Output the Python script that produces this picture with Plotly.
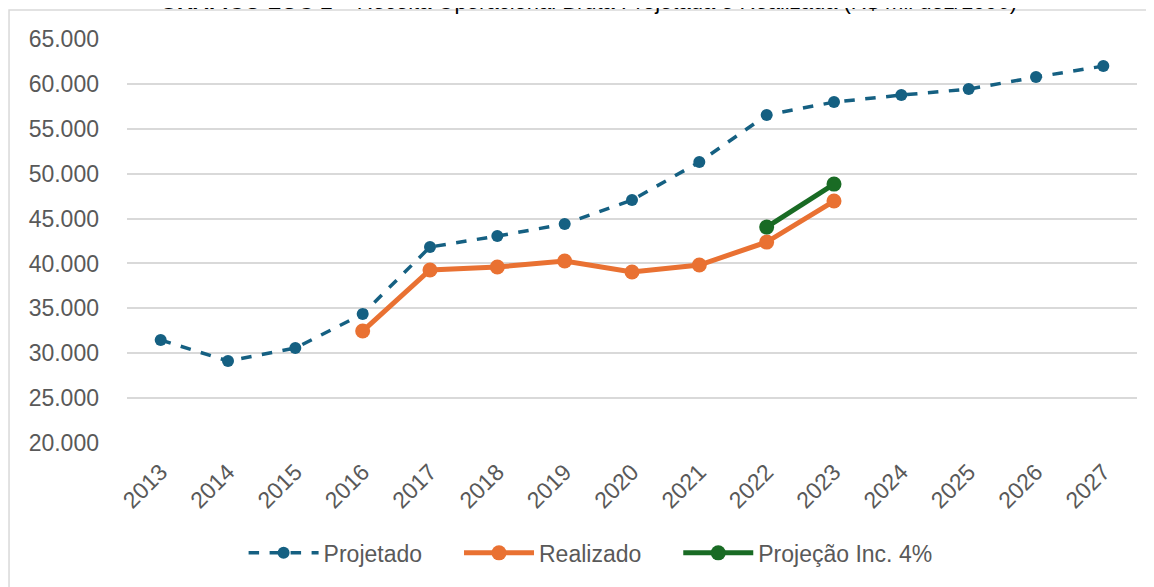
import plotly.graph_objects as go

# dados do grafico (R$ mil dez/1996)
anos = ['2013', '2014', '2015', '2016', '2017', '2018', '2019', '2020',
        '2021', '2022', '2023', '2024', '2025', '2026', '2027']
projetado = [31470, 29130, 30580, 34370, 41830, 43050, 44390, 47060,
             51290, 56530, 57970, 58750, 59420, 60760, 61980]
anos_realizado = ['2016', '2017', '2018', '2019', '2020', '2021', '2022', '2023']
realizado = [32470, 39270, 39600, 40270, 39040, 39820, 42380, 46950]
anos_inc4 = ['2022', '2023']
projecao_inc4 = [44050, 48840]
y_ticks = [20000, 25000, 30000, 35000, 40000, 45000, 50000, 55000, 60000, 65000]
y_labels = ['20.000', '25.000', '30.000', '35.000', '40.000', '45.000',
            '50.000', '55.000', '60.000', '65.000']

AZUL = '#156082'
LARANJA = '#E97132'
VERDE = '#196B24'
TEXTO = '#595959'
ESPACO = '\u00a0' * 5  # folga entre itens da legenda

fig = go.Figure()
fig.add_trace(go.Scatter(x=anos, y=projetado, name='Projetado' + ESPACO, mode='lines+markers',
                         line=dict(color=AZUL, width=3.5, dash='dash'),
                         marker=dict(color=AZUL, size=12)))
fig.add_trace(go.Scatter(x=anos_realizado, y=realizado, name='Realizado' + ESPACO, mode='lines+markers',
                         line=dict(color=LARANJA, width=5),
                         marker=dict(color=LARANJA, size=15)))
fig.add_trace(go.Scatter(x=anos_inc4, y=projecao_inc4, name='Projeção Inc. 4%', mode='lines+markers',
                         line=dict(color=VERDE, width=5),
                         marker=dict(color=VERDE, size=15)))

# moldura do grafico
fig.add_shape(type='rect', xref='paper', yref='paper',
              x0=-0.1168, x1=1.05, y0=-0.5, y1=1.0718,
              line=dict(color='#D9D9D9', width=1.5), fillcolor='rgba(0,0,0,0)')

# titulo (cortado no topo, como no original)
fig.add_annotation(text='<b>GRÁFICO LOC 1</b> – Receita Operacional Bruta Projetada e Realizada (R$ mil dez/1996)',
                   xref='paper', yref='paper', x=0.457, y=1.0, xanchor='center', yanchor='middle',
                   yshift=38, showarrow=False, font=dict(size=22, color='black'))

fig.update_layout(
    width=1154, height=587,
    margin=dict(l=119, r=25, t=31, b=152),
    paper_bgcolor='white', plot_bgcolor='white',
    font=dict(family='Arial, Liberation Sans', color=TEXTO, size=23),
    showlegend=True,
    legend=dict(orientation='h', x=0.459, xanchor='center', y=-0.272, yanchor='middle',
                font=dict(size=23, color=TEXTO), itemwidth=70, traceorder='normal'),
    xaxis=dict(type='category', categoryorder='array', categoryarray=anos,
               range=[-0.5, 14.5], tickangle=-45, showgrid=False, showline=False,
               ticks='', ticklabelstandoff=10, tickfont=dict(size=23, color=TEXTO)),
    yaxis=dict(range=[20000, 65000], tickvals=y_ticks, ticktext=y_labels,
               showgrid=True, gridcolor='#D9D9D9', gridwidth=1.5, zeroline=False,
               showline=False, ticks='', ticklabelstandoff=27,
               tickfont=dict(size=23, color=TEXTO)),
)

fig.write_html('out.html')
